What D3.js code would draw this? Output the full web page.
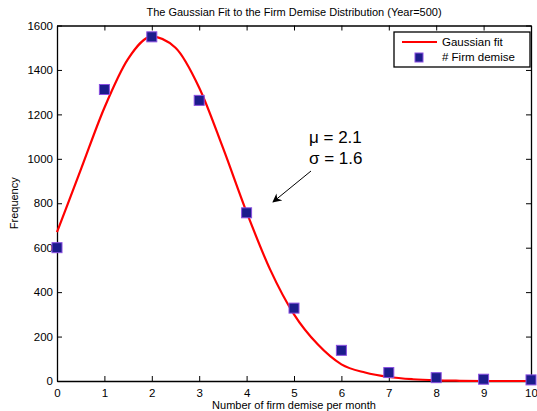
<!DOCTYPE html>
<html>
<head>
<meta charset="utf-8">
<script src="https://cdn.jsdelivr.net/npm/d3@7"></script>
<style>
    body { margin: 0; background: #fff; }
    svg text { font-family: "Liberation Sans", Arial, Helvetica, sans-serif; fill: #000; }
</style>
</head>
<body>
<div id="chart"></div>
<script>
// observed counts
let demiseX = [0, 1, 2, 3, 4, 5, 6, 7, 8, 9, 10];
let demiseCount = [600, 1312, 1549, 1263, 757, 328, 138, 38, 15, 8, 5];

// gaussian fit line
let fitX = [0, 0.5, 1, 1.5, 2, 2.5, 3, 3.5, 4, 4.5, 5, 5.5, 6, 6.5, 7, 7.5, 8, 8.5, 9, 9.5, 10];
let fitY = [670, 950, 1230, 1450, 1550, 1500, 1320, 1050, 760, 500, 300, 165, 75, 38, 18, 8, 3, 1, 0, 0, 0];

let xTicks = [0, 1, 2, 3, 4, 5, 6, 7, 8, 9, 10];
let yTicks = [0, 200, 400, 600, 800, 1000, 1200, 1400, 1600];

let legendLabels = ["Gaussian fit", "# Firm demise"];
let annotation = ["\u03bc = 2.1", "\u03c3 = 1.6"];

let width = 537, height = 411;
let margin = {top: 25.5, right: 6, bottom: 30, left: 57};
let plotW = width - margin.left - margin.right;
let plotH = height - margin.top - margin.bottom;

let svg = d3.select("#chart").append("svg")
    .attr("width", width)
    .attr("height", height);

let xScale = d3.scaleLinear().domain([0, 10]).range([0, plotW]);
let yScale = d3.scaleLinear().domain([0, 1600]).range([plotH, 0]);

let plot = svg.append("g")
    .attr("transform", "translate(" + margin.left + "," + margin.top + ")");

//AXES - matlab style, ticks pointing inward on all four sides
let tickLen = 5;
let bottomAxis = d3.axisBottom(xScale).tickValues(xTicks).tickFormat(d3.format("d"))
    .tickSizeInner(-tickLen).tickSizeOuter(0).tickPadding(8);
let leftAxis = d3.axisLeft(yScale).tickValues(yTicks).tickFormat(d3.format("d"))
    .tickSizeInner(-tickLen).tickSizeOuter(0).tickPadding(4);
let topAxis = d3.axisTop(xScale).tickValues(xTicks).tickSizeInner(-tickLen).tickSizeOuter(0).tickFormat("");
let rightAxis = d3.axisRight(yScale).tickValues(yTicks).tickSizeInner(-tickLen).tickSizeOuter(0).tickFormat("");

plot.append("g").attr("transform", "translate(0," + plotH + ")").call(bottomAxis);
plot.append("g").call(leftAxis);
plot.append("g").call(topAxis);
plot.append("g").attr("transform", "translate(" + plotW + ",0)").call(rightAxis);

plot.selectAll(".domain").attr("stroke", "#000").attr("stroke-width", 1.3);
plot.selectAll(".tick line").attr("stroke", "#000");
plot.selectAll(".tick text").attr("font-size", 11.5).style("font-family", "Liberation Sans, Arial, sans-serif");

//FIT LINE
let line = d3.line()
    .x((d, i) => xScale(fitX[i]))
    .y((d) => yScale(d))
    .curve(d3.curveMonotoneX);

plot.append("path")
    .datum(fitY)
    .attr("d", line)
    .attr("fill", "none")
    .attr("stroke", "#ff0000")
    .attr("stroke-width", 2.2);

//MARKERS
let markSize = 10;
plot.selectAll("rect.demise")
    .data(demiseCount)
    .enter().append("rect")
    .attr("class", "demise")
    .attr("x", (d, i) => xScale(demiseX[i]) - markSize / 2)
    .attr("y", (d) => yScale(d) - markSize / 2)
    .attr("width", markSize)
    .attr("height", markSize)
    .attr("fill", "#1c1c8c")
    .attr("stroke", "#8a4fe0")
    .attr("stroke-width", 1);

//TITLES
svg.append("text")
    .attr("x", margin.left + plotW / 2)
    .attr("y", 16)
    .attr("text-anchor", "middle")
    .attr("font-size", 11)
    .text("The Gaussian Fit to the Firm Demise Distribution (Year=500)");

svg.append("text")
    .attr("x", margin.left + plotW / 2)
    .attr("y", 409)
    .attr("text-anchor", "middle")
    .attr("font-size", 11)
    .text("Number of firm demise per month");

svg.append("text")
    .attr("transform", "translate(18," + (margin.top + plotH / 2) + ") rotate(-90)")
    .attr("text-anchor", "middle")
    .attr("font-size", 11)
    .text("Frequency");

//LEGEND
let legend = svg.append("g").attr("transform", "translate(394,32)");
legend.append("rect")
    .attr("width", 136)
    .attr("height", 35)
    .attr("fill", "#fff")
    .attr("stroke", "#000")
    .attr("stroke-width", 1.3);
legend.append("line")
    .attr("x1", 8).attr("x2", 43)
    .attr("y1", 10).attr("y2", 10)
    .attr("stroke", "#ff0000")
    .attr("stroke-width", 2.2);
legend.append("rect")
    .attr("x", 21).attr("y", 21)
    .attr("width", 8).attr("height", 9)
    .attr("fill", "#1c1c8c")
    .attr("stroke", "#8a4fe0");
legend.selectAll("text")
    .data(legendLabels)
    .enter().append("text")
    .attr("x", 48)
    .attr("y", (d, i) => 14 + i * 15)
    .attr("font-size", 11.5)
    .text((d) => d);

//ANNOTATION
svg.selectAll("text.annot")
    .data(annotation)
    .enter().append("text")
    .attr("class", "annot")
    .attr("x", 309)
    .attr("y", (d, i) => 143 + i * 21)
    .attr("font-size", 17)
    .text((d) => d);

svg.append("defs").append("marker")
    .attr("id", "arrowHead")
    .attr("viewBox", "0 0 10 10")
    .attr("refX", 9).attr("refY", 5)
    .attr("markerWidth", 9).attr("markerHeight", 9)
    .attr("markerUnits", "userSpaceOnUse")
    .attr("orient", "auto")
    .append("path")
    .attr("d", "M0,0 L10,5 L0,10 L3,5 Z")
    .attr("fill", "#000");

svg.append("line")
    .attr("x1", 311).attr("y1", 171)
    .attr("x2", 273).attr("y2", 202)
    .attr("stroke", "#000")
    .attr("stroke-width", 1)
    .attr("marker-end", "url(#arrowHead)");
</script>
</body>
</html>
